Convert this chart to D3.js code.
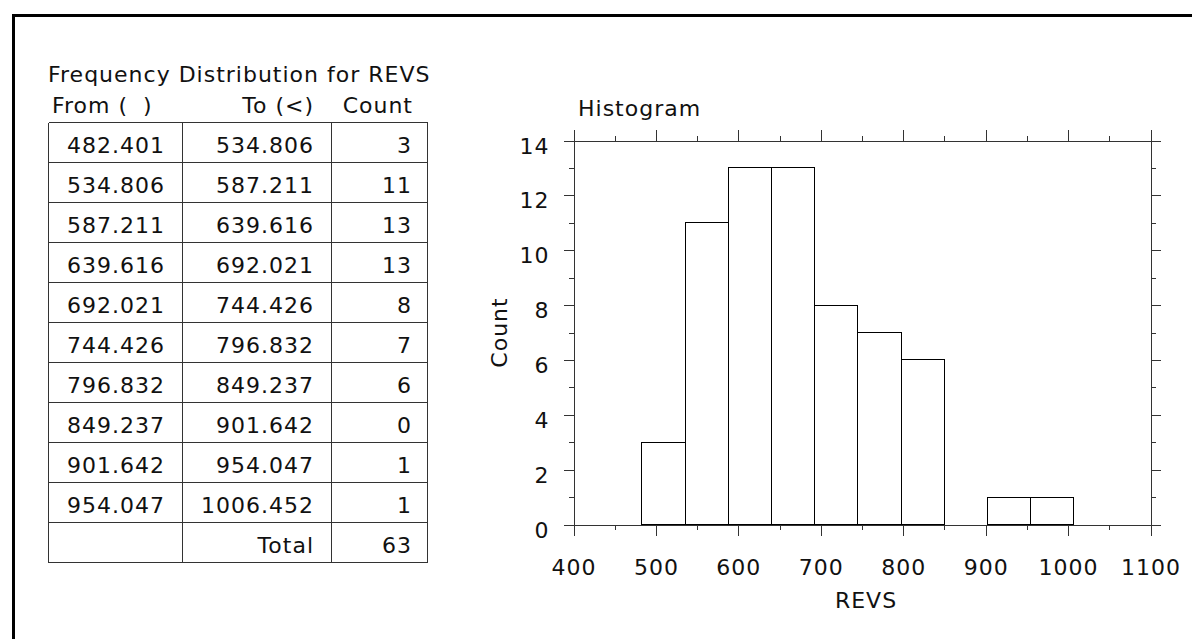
<!DOCTYPE html>
<html>
<head>
<meta charset="utf-8">
<script src="https://cdn.jsdelivr.net/npm/d3@7"></script>
<style>
  body { margin: 0; background: #fff; }
  svg { display: block; font-family: "DejaVu Sans", Verdana, sans-serif; letter-spacing: 1px; }
  text { fill: #111; }
</style>
</head>
<body>
<div id="chart"></div>
<script>
// frequency table for REVS
var binFrom = [482.401, 534.806, 587.211, 639.616, 692.021, 744.426, 796.832, 849.237, 901.642, 954.047];
var binTo = [534.806, 587.211, 639.616, 692.021, 744.426, 796.832, 849.237, 901.642, 954.047, 1006.452];
var counts = [3, 11, 13, 13, 8, 7, 6, 0, 1, 1];
var headers = ["From (\u2007)", "To (<)", "Count"];
var xTicks = [400, 500, 600, 700, 800, 900, 1000, 1100];
var yTicks = [0, 2, 4, 6, 8, 10, 12, 14];

var width = 1192, height = 639;
var fontSize = 22;
var fmt = d3.format(".3f");

var svg = d3.select("#chart").append("svg")
    .attr("width", width)
    .attr("height", height)
    .style("font-size", fontSize + "px");

// thick frame running off the page
svg.append("rect")
    .attr("x", 13.5).attr("y", 15.5)
    .attr("width", 1300).attr("height", 700)
    .attr("fill", "none")
    .attr("stroke", "#000")
    .attr("stroke-width", 3);

// ---------- table ----------
var colX = [48.5, 182.5, 331.5, 427.5];
var rowTop = 122.5, rowH = 40;
var tbl = svg.append("g").attr("shape-rendering", "crispEdges");

svg.append("text").attr("x", 48).attr("y", 82).text("Frequency Distribution for REVS");
svg.append("text").attr("x", 52).attr("y", 113).text(headers[0]);
svg.append("text").attr("x", 314).attr("y", 113).attr("text-anchor", "end").text(headers[1]);
svg.append("text").attr("x", 413).attr("y", 113).attr("text-anchor", "end").text(headers[2]);

var rows = binFrom.map(function(d, i) {
  return [fmt(d), fmt(binTo[i]), counts[i]];
});
rows.push(["", "Total", d3.sum(counts)]);

var nRows = rows.length;
for (var r = 0; r <= nRows; ++r) {
  tbl.append("line")
      .attr("x1", colX[0]).attr("x2", colX[3])
      .attr("y1", rowTop + r * rowH).attr("y2", rowTop + r * rowH)
      .attr("stroke", "#333");
}
colX.forEach(function(cx) {
  tbl.append("line")
      .attr("x1", cx).attr("x2", cx)
      .attr("y1", rowTop).attr("y2", rowTop + nRows * rowH)
      .attr("stroke", "#333");
});

var textRight = [165, 314, 412];
rows.forEach(function(row, r) {
  row.forEach(function(cell, c) {
    svg.append("text")
        .attr("x", textRight[c])
        .attr("y", rowTop + r * rowH + 30)
        .attr("text-anchor", "end")
        .text(cell);
  });
});

// ---------- histogram ----------
var x = d3.scaleLinear().domain([400, 1100]).range([573.5, 1150.5]);
var y = d3.scaleLinear().domain([0, 14]).range([524.5, 140.5]);

var xAll = d3.range(xTicks[0], xTicks[xTicks.length - 1] + 1, 50);
var yAll = d3.range(yTicks[0], yTicks[yTicks.length - 1] + 1, 1);

function isMajorX(d) { return xTicks.indexOf(d) >= 0; }
function isMajorY(d) { return yTicks.indexOf(d) >= 0; }

var plot = svg.append("g").attr("shape-rendering", "crispEdges");

// bars
plot.selectAll("rect.bar")
    .data(counts)
    .enter().append("rect")
    .attr("class", "bar")
    .attr("x", function(d, i) { return Math.round(x(binFrom[i])) + 0.5; })
    .attr("width", function(d, i) { return Math.round(x(binTo[i])) - Math.round(x(binFrom[i])); })
    .attr("y", function(d) { return y(d); })
    .attr("height", function(d) { return y(0) - y(d); })
    .attr("fill", "#fff")
    .attr("stroke", "#000");

function styleAxis(g) {
  g.select(".domain").attr("stroke", "#333");
  g.selectAll(".tick line").attr("stroke", "#333");
  g.selectAll("text").style("font-size", fontSize + "px").attr("fill", "#111")
      .style("font-family", "DejaVu Sans, Verdana, sans-serif");
}

var xBottom = plot.append("g")
    .attr("transform", "translate(0," + y(0) + ")")
    .call(d3.axisBottom(x).tickValues(xAll).tickSizeOuter(0).tickSizeInner(11).tickPadding(24)
        .tickFormat(function(d) { return isMajorX(d) ? d : ""; }));
xBottom.selectAll(".tick line").attr("y2", function(d) { return isMajorX(d) ? 11 : 5; });
styleAxis(xBottom);

var xTop = plot.append("g")
    .attr("transform", "translate(0," + y(14) + ")")
    .call(d3.axisTop(x).tickValues(xAll).tickSizeOuter(0).tickFormat(""));
xTop.selectAll(".tick line").attr("y2", function(d) { return isMajorX(d) ? -11 : -5; });
styleAxis(xTop);

var yLeft = plot.append("g")
    .attr("transform", "translate(" + x(400) + ",0)")
    .call(d3.axisLeft(y).tickValues(yAll).tickSizeOuter(0).tickSizeInner(10).tickPadding(14)
        .tickFormat(function(d) { return isMajorY(d) ? d : ""; }));
yLeft.selectAll(".tick line").attr("x2", function(d) { return isMajorY(d) ? -10 : -5; });
yLeft.selectAll(".tick text").attr("dy", "0.57em");
styleAxis(yLeft);

var yRight = plot.append("g")
    .attr("transform", "translate(" + x(1100) + ",0)")
    .call(d3.axisRight(y).tickValues(yAll).tickSizeOuter(0).tickFormat(""));
yRight.selectAll(".tick line").attr("x2", function(d) { return isMajorY(d) ? 10 : 5; });
styleAxis(yRight);

// titles
svg.append("text").attr("x", 578).attr("y", 116).text("Histogram");
svg.append("text")
    .attr("x", (x(400) + x(1100)) / 2 + 4)
    .attr("y", 608)
    .attr("text-anchor", "middle")
    .text("REVS");
svg.append("text")
    .attr("transform", "translate(507," + (y(0) + y(14)) / 2 + ") rotate(-90)")
    .attr("text-anchor", "middle")
    .text("Count");
</script>
</body>
</html>
